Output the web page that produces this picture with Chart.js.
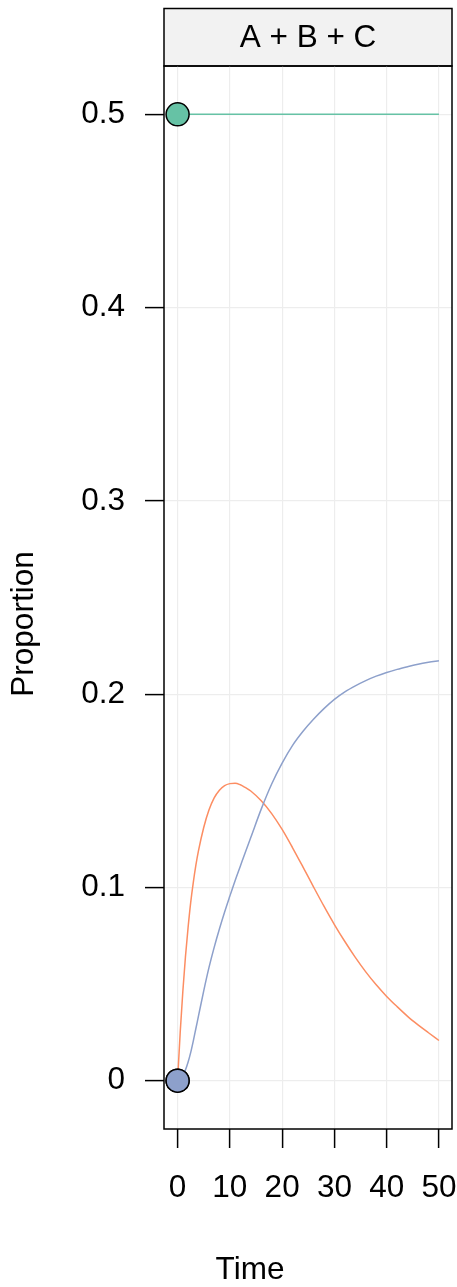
<!DOCTYPE html>
<html>
<head>
<meta charset="utf-8">
<script src="https://cdn.jsdelivr.net/npm/chart.js@4"></script>
<style>
  html, body { margin: 0; padding: 0; background: #fff; }
</style>
</head>
<body>
<canvas id="propChart" width="457" height="1287"></canvas>
<script>
// values
const times = [0, 0.5, 1, 1.5, 2, 2.5, 3, 3.5, 4, 5, 6, 7, 8, 9, 10, 11, 12, 13, 14, 16, 18, 20,
               22, 24, 26, 28, 30, 32, 34, 36, 38, 40, 42, 44, 46, 48, 50];
const propB = [0, 0.025, 0.046, 0.064, 0.079, 0.092, 0.1025, 0.1115, 0.119, 0.131, 0.14, 0.1463,
               0.1503, 0.1527, 0.1537, 0.1539, 0.1531, 0.1516, 0.1499, 0.1448, 0.1382, 0.13,
               0.1205, 0.1105, 0.1003, 0.0903, 0.0808, 0.072, 0.0638, 0.0563, 0.0496, 0.0436,
               0.0383, 0.0333, 0.0289, 0.0248, 0.0208];
const propC = [0, 0.0007, 0.0025, 0.0055, 0.0095, 0.0145, 0.0205, 0.027, 0.0335, 0.0465, 0.0585, 0.069,
               0.0785, 0.0873, 0.0955, 0.1035, 0.111, 0.1185, 0.1258, 0.1405, 0.1535, 0.1643,
               0.1735, 0.1808, 0.187, 0.1925, 0.1973, 0.2012, 0.2043, 0.207, 0.2093, 0.2112,
               0.2128, 0.2142, 0.2155, 0.2165, 0.2173];
const constTimes = [0, 50];
const propA = [0.5, 0.5];

const xTicks = [0, 10, 20, 30, 40, 50];
const yTicks = [0, 0.1, 0.2, 0.3, 0.4, 0.5];
const yTickLabels = ['0', '0.1', '0.2', '0.3', '0.4', '0.5'];
const panelTitle = 'A + B + C';

const FONT = "'Liberation Sans', Arial, sans-serif";
const FSIZE = 31.5;
Chart.defaults.font.family = FONT;
Chart.defaults.font.size = FSIZE;
Chart.defaults.color = '#000';

function toPoints(xs, ys) {
    return xs.map((x, i) => ({ x: x, y: ys[i] }));
}

function firstOnly(ctx) {
    return ctx.dataIndex === 0 ? 11.5 : 0;
}

// strip on top, full box round the panel, axis titles
const panelFrame = {
    id: 'panelFrame',
    beforeDraw(chart) {
        const { ctx, chartArea: a } = chart;
        const stripTop = 8.5;
        ctx.save();
        ctx.fillStyle = '#F2F2F2';
        ctx.fillRect(a.left, stripTop, a.right - a.left, a.top - stripTop);
        ctx.lineWidth = 1.5;
        ctx.strokeStyle = '#000';
        ctx.strokeRect(a.left, stripTop, a.right - a.left, a.top - stripTop);
        ctx.fillStyle = '#000';
        ctx.font = FSIZE + 'px ' + FONT;
        ctx.textAlign = 'center';
        ctx.textBaseline = 'middle';
        ctx.fillText(panelTitle, (a.left + a.right) / 2, (stripTop + a.top) / 2 + 1);
        ctx.restore();
    },
    afterDraw(chart) {
        const { ctx, chartArea: a } = chart;
        ctx.save();
        ctx.lineWidth = 1.5;
        ctx.strokeStyle = '#000';
        ctx.strokeRect(a.left, a.top, a.right - a.left, a.bottom - a.top);
        ctx.fillStyle = '#000';
        ctx.font = FSIZE + 'px ' + FONT;
        ctx.textAlign = 'center';
        ctx.textBaseline = 'middle';
        ctx.fillText('Time', 250, 1270);
        ctx.translate(24, 624);
        ctx.rotate(-Math.PI / 2);
        ctx.fillText('Proportion', 0, 0);
        ctx.restore();
    }
};

new Chart(document.getElementById('propChart'), {
    type: 'line',
    data: {
        datasets: [
            {
                label: 'C',
                data: toPoints(times, propC),
                borderColor: '#8DA0CB',
                backgroundColor: '#8DA0CB',
                borderWidth: 1.5,
                cubicInterpolationMode: 'monotone',
                pointRadius: firstOnly,
                pointBackgroundColor: '#8DA0CB',
                pointBorderColor: '#000',
                pointBorderWidth: 1.5
            },
            {
                label: 'B',
                data: toPoints(times, propB),
                borderColor: '#FC8D62',
                backgroundColor: '#FC8D62',
                borderWidth: 1.5,
                cubicInterpolationMode: 'monotone',
                pointRadius: firstOnly,
                pointBackgroundColor: '#FC8D62',
                pointBorderColor: '#000',
                pointBorderWidth: 1.5
            },
            {
                label: 'A',
                data: toPoints(constTimes, propA),
                borderColor: '#66C2A5',
                backgroundColor: '#66C2A5',
                borderWidth: 1.5,
                pointRadius: firstOnly,
                pointBackgroundColor: '#66C2A5',
                pointBorderColor: '#000',
                pointBorderWidth: 1.5
            }
        ]
    },
    options: {
        responsive: false,
        animation: false,
        layout: {
            autoPadding: false,
            padding: { top: 66, right: 5, left: 0, bottom: 0 }
        },
        plugins: {
            legend: { display: false },
            tooltip: { enabled: false }
        },
        scales: {
            x: {
                type: 'linear',
                min: -2.6,
                max: 52.5,
                afterBuildTicks: s => { s.ticks = xTicks.map(v => ({ value: v })); },
                afterFit: s => {
                    s.height = 158;
                    s.paddingLeft = 0;
                    s.paddingRight = 0;
                },
                grid: {
                    color: '#EDEDED',
                    lineWidth: 1.2,
                    tickColor: '#000',
                    tickWidth: 1.5,
                    tickLength: 19
                },
                border: { display: false },
                ticks: { padding: 21, maxRotation: 0, autoSkip: false }
            },
            y: {
                min: -0.025,
                max: 0.525,
                afterBuildTicks: s => { s.ticks = yTicks.map(v => ({ value: v })); },
                afterFit: s => {
                    s.width = 164;
                    s.paddingTop = 0;
                    s.paddingBottom = 0;
                },
                grid: {
                    color: '#EDEDED',
                    lineWidth: 1.2,
                    tickColor: '#000',
                    tickWidth: 1.5,
                    tickLength: 19
                },
                border: { display: false },
                ticks: {
                    padding: 20,
                    autoSkip: false,
                    callback: (v, i) => yTickLabels[i]
                }
            }
        }
    },
    plugins: [panelFrame]
});
</script>
</body>
</html>
